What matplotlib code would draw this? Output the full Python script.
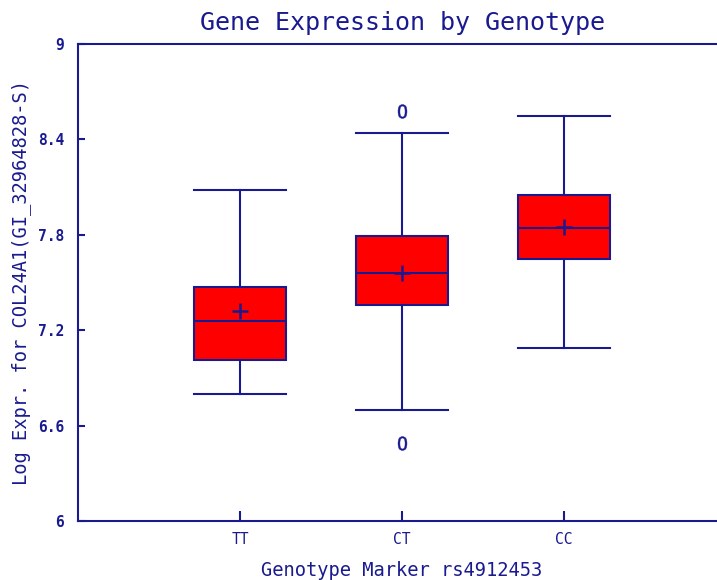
import matplotlib
matplotlib.use("Agg")
from matplotlib import pyplot as plt

# box statistics
genotypes = ["TT", "CT", "CC"]
whisker_low = [6.80, 6.70, 7.09]
q1 = [7.01, 7.36, 7.65]
median = [7.26, 7.56, 7.84]
q3 = [7.47, 7.79, 8.05]
whisker_high = [8.08, 8.44, 8.55]
mean = [7.32, 7.56, 7.85]
outliers = [[], [8.58, 6.49], []]

navy = "#1A1A90"
mono = "DejaVu Sans Mono"

stats = []
for i, g in enumerate(genotypes):
    stats.append(dict(label=g, whislo=whisker_low[i], q1=q1[i], med=median[i],
                      q3=q3[i], whishi=whisker_high[i], mean=mean[i],
                      fliers=outliers[i]))

fig = plt.figure(figsize=(7.17, 5.80), dpi=100)
ax = fig.add_axes([78 / 717, 59 / 580, 648 / 717, 477 / 580])

ax.bxp(stats, positions=[1, 2, 3], widths=0.57, patch_artist=True,
       showmeans=True, showcaps=True,
       boxprops=dict(facecolor="#FF0000", edgecolor=navy, linewidth=1.5),
       medianprops=dict(color=navy, linewidth=1.5),
       whiskerprops=dict(color=navy, linewidth=1.5),
       capprops=dict(color=navy, linewidth=1.5),
       capwidths=0.57,
       meanprops=dict(marker="+", markeredgecolor=navy, markersize=11,
                      markeredgewidth=1.8),
       flierprops=dict(marker=r"$\mathtt{O}$", markerfacecolor=navy,
                       markeredgecolor=navy, markersize=10,
                       markeredgewidth=0.3))

ax.set_xlim(0, 4)
ax.set_ylim(6, 9)
ax.set_yticks([6, 6.6, 7.2, 7.8, 8.4, 9])
ax.set_yticklabels(["6", "6.6", "7.2", "7.8", "8.4", "9"])

for side in ["top", "bottom", "left", "right"]:
    ax.spines[side].set_color(navy)
    ax.spines[side].set_linewidth(1.5)

ax.tick_params(axis="y", direction="in", length=5, width=1.5, color=navy,
               labelcolor=navy, pad=10)
ax.tick_params(axis="x", direction="in", length=7, width=1.5, color=navy,
               labelcolor=navy, pad=8)
for lab in ax.get_yticklabels():
    lab.set_fontfamily(mono)
    lab.set_fontsize(10.5)
    lab.set_fontweight("bold")
for lab in ax.get_xticklabels():
    lab.set_fontfamily(mono)
    lab.set_fontsize(10.5)

ax.set_title("Gene Expression by Genotype", fontfamily=mono, fontsize=18,
             color=navy, pad=10)
ax.set_xlabel("Genotype Marker rs4912453", fontfamily=mono, fontsize=13.5,
              color=navy, labelpad=10)
ax.set_ylabel("Log Expr. for COL24A1(GI_32964828-S)", fontfamily=mono,
              fontsize=13.5, color=navy, labelpad=5)

fig.savefig("out.png", dpi=100)
